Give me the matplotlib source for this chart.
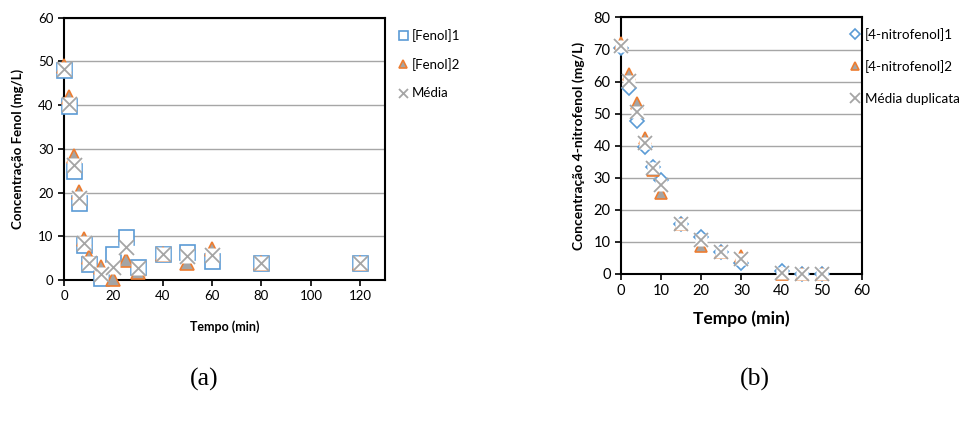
import numpy as np
import matplotlib
matplotlib.use('Agg')
import matplotlib.pyplot as plt

plt.rcParams['font.family'] = ['Lato', 'DejaVu Sans']

# (a) fenol
tempo_a = [0, 2, 4, 6, 8, 10, 15, 20, 25, 30, 40, 50, 60, 80, 120]
fenol1 = [48, 39.7, 25, 17.5, 8, 3.6, 0.4, 6, 9.8, 3, 6, 6.5, 4.3, 4, 4]
fenol2 = [49, 41.9, 28.4, 20.2, 9.3, 5.2, 2.9, 0.2, 4.6, 1.9, 6, 3.8, 7.2, 4, 4]
media_a = [48.2, 40.3, 26.4, 18.8, 8.4, 3.8, 1.4, 3, 7.6, 2.7, 5.9, 5.5, 5.7, 3.8, 4]

# (b) 4-nitrofenol
tempo_b = [0, 2, 4, 6, 8, 10, 15, 20, 25, 30, 40, 45, 50]
nitro1 = [70.5, 57.9, 47.8, 39.7, 33.4, 29.3, 15.6, 11.6, 7, 3.5, 0.8, 0, 0]
nitro2 = [72, 62.3, 53.2, 42.4, 32.4, 25.3, 15.6, 8.7, 7, 5.7, 0, 0, 0]
media_b = [71.2, 60.3, 50.6, 40.9, 32.9, 27.9, 15.6, 10.6, 6.95, 4.6, 0.4, 0, 0]

azul = '#5B9BD5'
laranja = '#ED7D31'
cinza = '#A5A5A5'

fig = plt.figure(figsize=(9.65, 4.21), dpi=100)
ax1 = fig.add_axes([0.0663, 0.3349, 0.3326, 0.6235])
ax2 = fig.add_axes([0.6435, 0.3492, 0.2497, 0.6093])


def desenha(ax, x, s1, s2, m, mk1, ms1, ms2, ms3, lab):
    ax.plot(x, s1, ls='none', marker=mk1, ms=ms1, mfc='white', mec=azul, mew=1.2,
            clip_on=False, zorder=3, label=lab[0])
    ax.plot(x, s2, ls='none', marker='^', ms=ms2, mfc=cinza, mec=laranja, mew=1.2,
            clip_on=False, zorder=4, label=lab[1])
    # fundo branco do marcador X (estilo Excel)
    ax.plot(x, m, ls='none', marker='s', ms=ms3 * 0.95, mfc='white', mec='none',
            clip_on=False, zorder=5)
    ax.plot(x, m, ls='none', marker='x', ms=ms3, mec=cinza, mew=1.3,
            clip_on=False, zorder=6, label=lab[2])
    for s in ax.spines.values():
        s.set_linewidth(1.5)
        s.set_color('black')
    ax.yaxis.grid(True, color='#A6A6A6', lw=1)
    ax.set_axisbelow(True)
    ax.tick_params(direction='out', length=4, width=1.2, top=False, right=False)


desenha(ax1, tempo_a, fenol1, fenol2, media_a, 's', 10.8, 10, 10.8,
        ['[Fenol]1', '[Fenol]2', 'Média'])
ax1.set_xlim(0, 130)
ax1.set_ylim(0, 60)
ax1.set_xticks(range(0, 121, 20))
ax1.set_yticks(range(0, 61, 10))
ax1.tick_params(labelsize=9.5)
ax1.set_xlabel('Tempo (min)', fontsize=9, fontweight='bold', labelpad=13)
ax1.set_ylabel('Concentração Fenol (mg/L)', fontsize=9.5, fontweight='bold', labelpad=10)
ax1.legend(loc='upper left', bbox_to_anchor=(391 / 965, 1 - 22 / 421),
           bbox_transform=fig.transFigure, frameon=False, fontsize=9.5,
           markerscale=0.6, handlelength=0.8, handletextpad=0.3, labelspacing=1.25,
           borderpad=0)

desenha(ax2, tempo_b, nitro1, nitro2, media_b, 'D', 6.8, 9, 9.6,
        ['[4-nitrofenol]1', '[4-nitrofenol]2', 'Média duplicata'])
ax2.set_xlim(0, 60)
ax2.set_ylim(0, 80)
ax2.set_xticks(range(0, 61, 10))
ax2.set_yticks(range(0, 81, 10))
ax2.tick_params(labelsize=10.5)
ax2.set_xlabel('Tempo (min)', fontsize=12.5, fontweight='bold', labelpad=9)
ax2.set_ylabel('Concentração 4-nitrofenol (mg/L)', fontsize=10, fontweight='bold', labelpad=6)
ax2.legend(loc='upper left', bbox_to_anchor=(843 / 965, 1 - 21 / 421),
           bbox_transform=fig.transFigure, frameon=False, fontsize=9.7,
           markerscale=0.7, handlelength=0.8, handletextpad=0.3, labelspacing=1.45,
           borderpad=0)

fig.text(204 / 965, 1 - 379 / 421, '(a)', family='Liberation Serif', fontsize=18.5,
         ha='center', va='center')
fig.text(755 / 965, 1 - 379 / 421, '(b)', family='Liberation Serif', fontsize=18.5,
         ha='center', va='center')

fig.savefig('out.png', dpi=100)
